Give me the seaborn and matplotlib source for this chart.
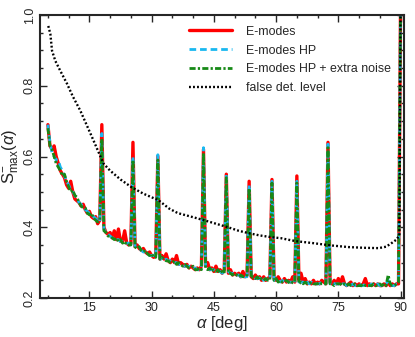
import numpy as np
import pandas as pd
import matplotlib
matplotlib.use("Agg")
import matplotlib.pyplot as plt
from matplotlib.ticker import MultipleLocator
import seaborn as sns

# angle grid for the three S_max curves (deg)
alpha = np.arange(5.0, 90.5, 0.5)

# E-modes (10 values per 5 deg)
s_emodes = [
    .69, .63, .62, .63, .60, .58, .56, .55, .54, .52,
    .51, .53, .50, .48, .475, .47, .46, .465, .45, .44,
    .445, .43, .425, .43, .41, .42, .69, .40, .385, .38,
    .385, .37, .39, .365, .395, .36, .36, .39, .355, .35,
    .355, .64, .345, .35, .34, .335, .34, .33, .325, .33,
    .32, .315, .325, .60, .31, .32, .31, .325, .305, .30,
    .31, .30, .32, .295, .30, .295, .29, .295, .285, .29,
    .285, .28, .285, .28, .29, .62, .29, .30, .28, .285,
    .275, .29, .275, .28, .27, .28, .55, .27, .28, .265,
    .27, .265, .27, .26, .275, .26, .265, .53, .26, .255,
    .265, .255, .26, .25, .26, .25, .255, .26, .535, .255,
    .25, .26, .25, .245, .255, .245, .25, .245, .26, .245,
    .545, .25, .27, .245, .255, .24, .245, .24, .25, .24,
    .245, .24, .25, .245, .24, .64, .245, .24, .25, .24,
    .255, .24, .26, .24, .235, .24, .245, .235, .24, .235,
    .24, .235, .24, .255, .235, .24, .235, .24, .235, .24,
    .235, .235, .24, .235, .245, .235, .24, .235, .24, .24,
    1.05,
]

# E-modes HP
s_hp = [
    .69, .64, .61, .60, .59, .59, .57, .56, .545, .53,
    .52, .505, .50, .49, .48, .47, .465, .455, .45, .445,
    .44, .435, .43, .425, .42, .415, .665, .395, .385, .38,
    .375, .37, .37, .365, .365, .36, .36, .355, .355, .355,
    .35, .60, .345, .34, .34, .335, .33, .33, .325, .32,
    .32, .32, .315, .605, .31, .31, .305, .31, .305, .305,
    .30, .30, .30, .295, .295, .29, .29, .29, .29, .285,
    .285, .285, .28, .28, .285, .625, .285, .285, .28, .28,
    .28, .275, .275, .275, .27, .275, .55, .275, .27, .27,
    .265, .265, .265, .26, .265, .26, .26, .52, .26, .26,
    .255, .255, .255, .26, .25, .255, .25, .255, .53, .25,
    .25, .25, .245, .25, .245, .25, .245, .245, .245, .24,
    .53, .245, .245, .245, .24, .245, .24, .245, .24, .24,
    .24, .24, .245, .24, .24, .635, .24, .245, .24, .24,
    .24, .235, .24, .24, .235, .24, .235, .24, .235, .235,
    .24, .235, .235, .24, .235, .235, .24, .235, .235, .24,
    .235, .235, .24, .24, .25, .235, .235, .235, .24, .24,
    1.05,
]

# E-modes HP + extra noise
s_noise = [
    .68, .63, .62, .60, .58, .57, .56, .545, .55, .53,
    .515, .50, .505, .49, .485, .47, .46, .455, .455, .44,
    .435, .44, .425, .42, .415, .42, .65, .39, .385, .375,
    .375, .37, .365, .37, .36, .365, .355, .36, .35, .35,
    .35, .59, .345, .34, .345, .335, .33, .335, .325, .32,
    .325, .315, .315, .59, .31, .315, .31, .305, .305, .30,
    .30, .305, .295, .30, .295, .29, .295, .29, .285, .285,
    .29, .28, .28, .285, .28, .61, .285, .28, .285, .275,
    .28, .275, .28, .27, .275, .27, .54, .27, .27, .265,
    .27, .265, .26, .265, .26, .26, .265, .51, .255, .26,
    .255, .26, .25, .255, .25, .255, .25, .25, .525, .25,
    .255, .245, .25, .245, .245, .25, .245, .24, .245, .245,
    .525, .24, .245, .24, .245, .24, .24, .245, .24, .24,
    .24, .245, .24, .24, .24, .625, .24, .24, .235, .24,
    .24, .24, .235, .24, .235, .24, .235, .235, .24, .235,
    .235, .235, .24, .235, .235, .235, .235, .24, .235, .235,
    .24, .235, .24, .235, .265, .24, .235, .235, .24, .245,
    1.05,
]

# false detection level
fd_alpha = [5.1, 5.6, 6.0, 6.8, 8.0, 9.6, 11.0, 12.8, 14.5, 16.0, 18.4, 20.0,
            22.5, 25.2, 28.0, 31.7, 34.2, 36.3, 39.5, 42.6, 45.5, 48.4, 51.0,
            53.5, 56.0, 58.8, 61.2, 63.7, 65.3, 69.0, 72.9, 77.4, 81.0, 84.7,
            86.5, 87.8, 89.0, 89.7, 90.0]
fd_level = [.969, .946, .899, .87, .842, .806, .77, .73, .685, .645, .58, .56,
            .535, .513, .495, .476, .453, .44, .43, .42, .41, .40, .39,
            .383, .377, .372, .369, .363, .36, .355, .349, .344, .342, .341,
            .345, .355, .365, .377, 1.05]

df = pd.DataFrame({"alpha": alpha, "E": s_emodes, "HP": s_hp, "noise": s_noise})
fd = pd.DataFrame({"alpha": fd_alpha, "level": fd_level})

sns.set_style("ticks")
plt.rcParams["font.family"] = ["Liberation Sans", "DejaVu Sans"]
plt.rcParams["mathtext.fontset"] = "custom"
plt.rcParams["mathtext.rm"] = "Liberation Sans"
plt.rcParams["mathtext.it"] = "Liberation Sans:italic"

fig = plt.figure(figsize=(4.15, 3.37), dpi=100)
ax = fig.add_axes([0.0964, 0.1157, 0.8759, 0.8398])

sns.lineplot(data=df, x="alpha", y="E", ax=ax, color="#ff0000", lw=2.4,
             label="E-modes")
sns.lineplot(data=df, x="alpha", y="HP", ax=ax, color="#1ab8f0", lw=2.0,
             linestyle=(0, (2.4, 1.4)), label="E-modes HP")
sns.lineplot(data=df, x="alpha", y="noise", ax=ax, color="#178a17", lw=2.0,
             linestyle=(0, (2.2, 0.8, 0.8, 0.8)), label="E-modes HP + extra noise")
sns.lineplot(data=fd, x="alpha", y="level", ax=ax, color="black", lw=1.7,
             linestyle=(0, (0.8, 0.9)), label="false det. level")

ax.set_xlim(3.1, 90.7)
ax.set_ylim(0.2, 1.0)
ax.xaxis.set_major_locator(MultipleLocator(15))
ax.xaxis.set_minor_locator(MultipleLocator(5))
ax.yaxis.set_major_locator(MultipleLocator(0.2))
ax.yaxis.set_minor_locator(MultipleLocator(0.05))
ax.tick_params(which="both", direction="in", top=True, right=True, width=1.0,
               labelsize=9, pad=3)
ax.tick_params(which="major", length=5)
ax.tick_params(which="minor", length=2.5)
for lab in ax.get_yticklabels():
    lab.set_rotation(90)
    lab.set_va("center")
for sp in ax.spines.values():
    sp.set_linewidth(1.5)

ax.set_xlabel(r"$\alpha$ [deg]", fontsize=12, labelpad=0)
ax.set_ylabel(r"S$^{-}_{\rm max}$($\alpha$)", fontsize=12, labelpad=2)

ax.legend(loc="upper left", bbox_to_anchor=(0.41, 0.962), frameon=False,
          fontsize=8.9, handlelength=3.5, handletextpad=1.1, labelspacing=0.55,
          borderpad=0, borderaxespad=0)

fig.savefig("out.png", dpi=100)
